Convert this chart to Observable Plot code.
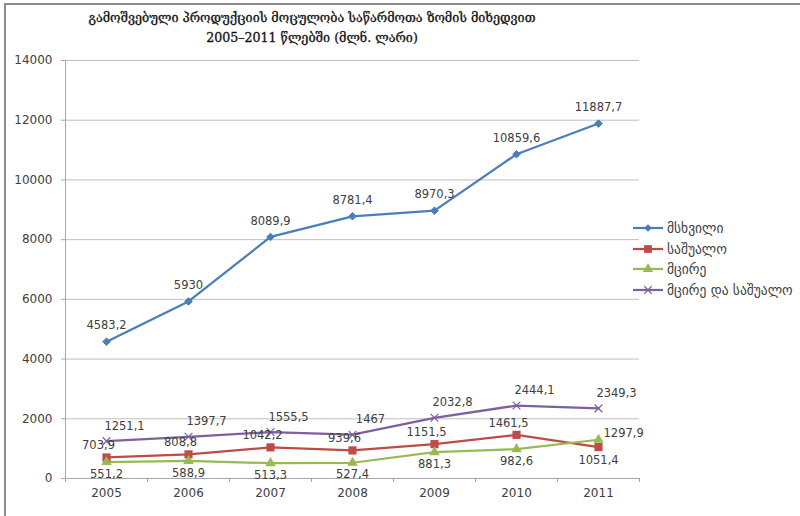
<!DOCTYPE html>
<html>
<head>
<meta charset="utf-8">
<script src="https://cdn.jsdelivr.net/npm/d3@7"></script>
<script src="https://cdn.jsdelivr.net/npm/@observablehq/plot@0.6"></script>
<style>
  html, body { margin: 0; padding: 0; background: #fff; }
  #wrap { position: relative; width: 800px; height: 516px; overflow: hidden; font-family: "DejaVu Sans", sans-serif; }
  #frame { position: absolute; left: 4px; top: 3px; width: 800px; height: 520px; border-left: 2px solid #8c8c8c; border-top: 2px solid #8c8c8c; box-sizing: border-box; pointer-events: none; }
  #title { position: absolute; left: 0; top: 8px; width: 624px; text-align: center; font-family: "DejaVu Serif", serif; font-weight: normal; font-size: 12.6px; line-height: 20px; color: #111; -webkit-text-stroke: 0.3px #111; }
  #chart { position: absolute; left: 0; top: 50px; }
  #legend { position: absolute; left: 632px; top: 218px; font-size: 13.5px; color: #404040; }
  #legend .row { display: flex; align-items: center; height: 20.5px; }
  #legend svg { margin-right: 3px; }
</style>
</head>
<body>
<div id="wrap">
  <div id="title">გამოშვებული პროდუქციის მოცულობა საწარმოთა ზომის მიხედვით<br>2005–2011 წლებში (მლნ. ლარი)</div>
  <div id="chart"></div>
  <div id="legend"></div>
  <div id="frame"></div>
</div>
<script>
// ---- data ----
const years = [2005, 2006, 2007, 2008, 2009, 2010, 2011];
const large = [4583.2, 5930, 8089.9, 8781.4, 8970.3, 10859.6, 11887.7];
const medium = [703.9, 808.8, 1042.2, 939.6, 1151.5, 1461.5, 1051.4];
const small = [551.2, 588.9, 513.3, 527.4, 881.3, 982.6, 1297.9];
const smallMedium = [1251.1, 1397.7, 1555.5, 1467, 2032.8, 2444.1, 2349.3];
const seriesNames = ["მსხვილი", "საშუალო", "მცირე", "მცირე და საშუალო"];
const yTicks = [0, 2000, 4000, 6000, 8000, 10000, 12000, 14000];

// ---- styles ----
const colors = ["#4a7ebb", "#be4b48", "#98b954", "#7d60a0"];
const symbols = ["diamond2", "square", "triangle", "times"];
const fmt = v => String(v).replace(".", ",");
const rows = vals => years.map((year, i) => ({year, value: vals[i]}));
const R = [rows(large), rows(medium), rows(small), rows(smallMedium)];
const bounds = years.map(y => y - 0.5).concat([years[years.length - 1] + 0.5]);
const labelStyle = {x: "year", y: "value", text: d => fmt(d.value), fontSize: 11.5, fill: "#404040", fontFamily: "DejaVu Sans"};
const last = years[years.length - 1];

function dots(data, i) {
  const sym = symbols[i];
  const opts = {x: "year", y: "value", symbol: sym};
  if (sym === "times") return Plot.dot(data, {...opts, r: 3.6, stroke: colors[i], strokeWidth: 1.2, fill: "none"});
  if (sym === "square") return Plot.dot(data, {...opts, r: 4.6, fill: colors[i], stroke: "none"});
  if (sym === "triangle") return Plot.dot(data, {...opts, r: 3.9, fill: colors[i], stroke: "none"});
  return Plot.dot(data, {...opts, r: 3.4, fill: colors[i], stroke: colors[i], strokeWidth: 1});
}

const chart = Plot.plot({
  width: 800,
  height: 466,
  marginLeft: 65,
  marginRight: 161,
  marginTop: 10,
  marginBottom: 38,
  style: {fontFamily: "DejaVu Sans", fontSize: "12px", background: "transparent"},
  x: {type: "linear", domain: [bounds[0], bounds[bounds.length - 1]]},
  y: {domain: [0, 14000]},
  marks: [
    Plot.gridY({ticks: yTicks, stroke: "#bfbfbf", strokeOpacity: 1, strokeWidth: 1}),
    Plot.axisY({ticks: yTicks, tickSize: 4, tickPadding: 9, stroke: "#a6a6a6", fill: "#404040", fontSize: 12, label: null, tickFormat: d => String(d)}),
    Plot.ruleX([bounds[0]], {stroke: "#a6a6a6"}),
    Plot.ruleY([0], {stroke: "#a6a6a6"}),
    Plot.axisX({ticks: bounds, tickSize: 4, tickFormat: () => "", stroke: "#a6a6a6", label: null}),
    Plot.axisX({ticks: years, tickSize: 0, tickPadding: 10, fill: "#404040", fontSize: 12, label: null, tickFormat: d => String(d)}),
    ...R.map((d, i) => Plot.line(d, {x: "year", y: "value", stroke: colors[i], strokeWidth: 2.25})),
    ...R.map((d, i) => dots(d, i)),
    // labels: large above
    Plot.text(R[0], {...labelStyle, dy: -16}),
    // medium above-left, last one below
    Plot.text(R[1].filter(d => d.year !== last), {...labelStyle, dx: -8, dy: -12}),
    Plot.text(R[1].filter(d => d.year === last), {...labelStyle, dy: 13}),
    // small below, last one right
    Plot.text(R[2].filter(d => d.year !== last), {...labelStyle, dy: 12}),
    Plot.text(R[2].filter(d => d.year === last), {...labelStyle, textAnchor: "start", dx: 5, dy: -6}),
    // small & medium above-right
    Plot.text(R[3], {...labelStyle, dx: 18, dy: -15})
  ]
});
document.getElementById("chart").appendChild(chart);

// ---- legend ----
const legend = d3.select("#legend");
seriesNames.forEach((name, i) => {
  const row = legend.append("div").attr("class", "row");
  const svg = row.append("svg").attr("width", 32).attr("height", 12);
  svg.append("line").attr("x1", 1).attr("x2", 31).attr("y1", 6).attr("y2", 6)
    .attr("stroke", colors[i]).attr("stroke-width", 2.25);
  const sym = {diamond2: d3.symbolDiamond2, square: d3.symbolSquare, triangle: d3.symbolTriangle, times: d3.symbolTimes}[symbols[i]];
  const size = {diamond2: 36, square: 60, triangle: 45, times: 38}[symbols[i]];
  const p = svg.append("path").attr("transform", "translate(16,6)").attr("d", d3.symbol(sym, size)());
  if (symbols[i] === "times") p.attr("fill", "none").attr("stroke", colors[i]).attr("stroke-width", 1.2);
  else p.attr("fill", colors[i]);
  row.append("span").text(name);
});
</script>
</body>
</html>
